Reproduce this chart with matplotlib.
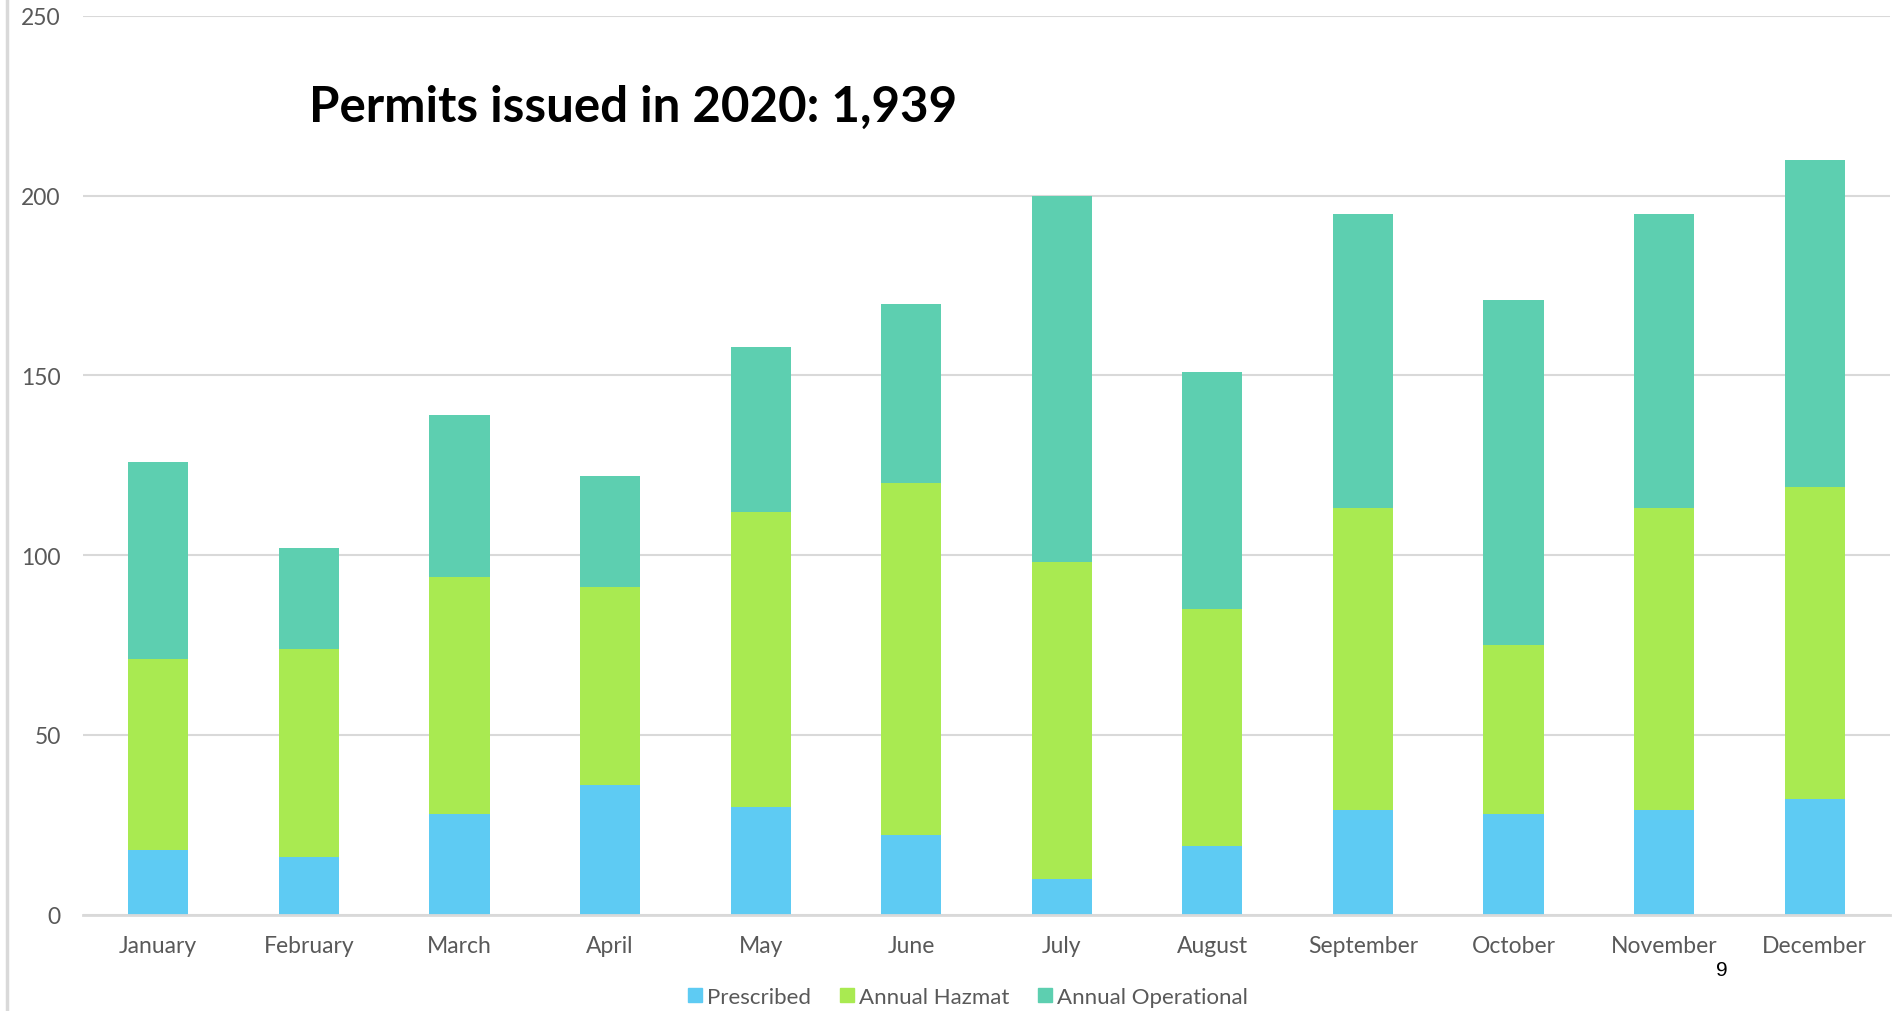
import numpy as np
import matplotlib
matplotlib.use("Agg")
import matplotlib.pyplot as plt
from matplotlib.lines import Line2D

months = ["January", "February", "March", "April", "May", "June", "July",
          "August", "September", "October", "November", "December"]
prescribed = [18, 16, 28, 36, 30, 22, 10, 19, 29, 28, 29, 32]
annual_hazmat = [53, 58, 66, 55, 82, 98, 88, 66, 84, 47, 84, 87]
annual_operational = [55, 28, 45, 31, 46, 50, 102, 66, 82, 96, 82, 91]
series_names = ["Prescribed", "Annual Hazmat", "Annual Operational"]
colors = ["#5ecbf3", "#a9ea51", "#5dcfb0"]
y_ticks = [0, 50, 100, 150, 200, 250]
title_text = "Permits issued in 2020: 1,939"
page_number = "9"

plt.rcParams["font.family"] = ["Lato", "DejaVu Sans"]

W, H = 1895, 1012
fig = plt.figure(figsize=(W / 100, H / 100), dpi=100)
ax = fig.add_axes([83 / W, 1 - 915.5 / H, (1890 - 83) / W, (915.5 - 17) / H])

x = np.arange(len(months))
bottom = np.zeros(len(months))
for vals, name, c in zip([prescribed, annual_hazmat, annual_operational],
                         series_names, colors):
    ax.bar(x, vals, width=0.4, bottom=bottom, color=c, label=name, zorder=3)
    bottom += np.array(vals)

ax.set_xlim(-0.5, len(months) - 0.5)
ax.set_ylim(0, 250)
ax.set_yticks(y_ticks)
ax.set_xticks(x)
ax.set_xticklabels(months)
ax.grid(axis="y", color="#d9d9d9", linewidth=1.5, zorder=0)
for s in ["top", "right", "left"]:
    ax.spines[s].set_visible(False)
ax.spines["bottom"].set_color("#d9d9d9")
ax.spines["bottom"].set_linewidth(2)
ax.spines["bottom"].set_zorder(4)
ax.tick_params(axis="both", length=0, labelsize=16.5, labelcolor="#595959")
ax.tick_params(axis="x", pad=15)
ax.tick_params(axis="y", pad=16)

fig.text(633 / W, 1 - 107 / H, title_text, fontsize=35.5, fontweight="bold",
         ha="center", va="center", color="black")

handles = [Line2D([], [], marker="s", linestyle="none", markersize=10,
                  markerfacecolor=c, markeredgecolor=c) for c in colors]
fig.legend(handles, series_names, loc="center", bbox_to_anchor=(968 / W, 1 - 998 / H),
           ncol=3, frameon=False, fontsize=16, handlelength=0.6, handletextpad=0.25,
           columnspacing=1.3, labelcolor="#595959")

fig.text(1722 / W, 1 - 971 / H, page_number, fontsize=15, family="Liberation Sans",
         ha="center", va="center", color="black")

fig.add_artist(Line2D([7 / W, 7 / W], [0, 1], color="#d9d9d9", linewidth=2.5))

fig.savefig("out.png", dpi=100)
